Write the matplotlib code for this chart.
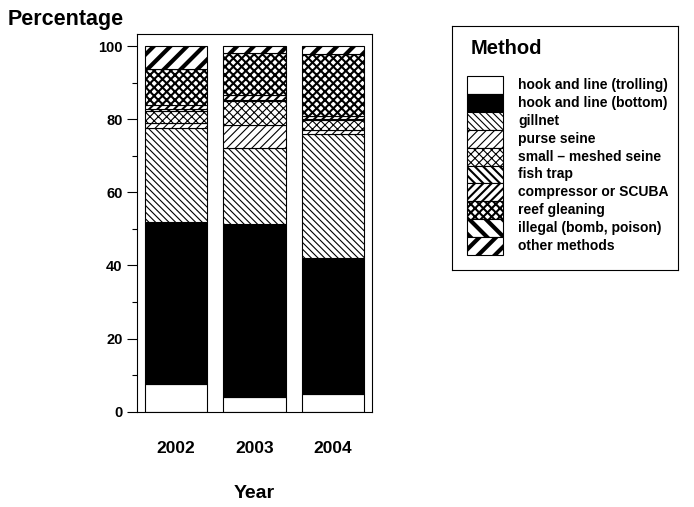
import matplotlib.pyplot as plt
import numpy as np
from matplotlib.patches import Rectangle

plt.rcParams['font.family'] = ['Liberation Sans', 'DejaVu Sans']

years = ['2002', '2003', '2004']
methods = ['hook and line (trolling)', 'hook and line (bottom)', 'gillnet',
           'purse seine', 'small \u2013 meshed seine', 'fish trap',
           'compressor or SCUBA', 'reef gleaning', 'illegal (bomb, poison)',
           'other methods']

# percent of catch by method, one value per year
trolling = [7.6, 4.1, 4.75]
bottom = [44.3, 47.2, 37.15]
gillnet = [25.8, 20.7, 34.0]
purse_seine = [1.3, 6.3, 1.2]
small_mesh = [3.2, 6.6, 2.7]
fish_trap = [0.7, 0.3, 0.3]
compressor = [1.1, 1.5, 0.8]
reef_gleaning = [9.8, 11.4, 17.0]
illegal = [0.0, 0.0, 0.0]
other = [6.2, 1.9, 2.1]

series = [trolling, bottom, gillnet, purse_seine, small_mesh, fish_trap,
          compressor, reef_gleaning, illegal, other]

# (fill, hatch, hatch line width) for each method
styles = [
    ('white', '', 1.0),
    ('black', '', 1.0),
    ('white', '\\' * 5, 0.8),
    ('white', '/' * 4, 0.8),
    ('white', 'x' * 4, 0.8),
    ('white', '\\' * 4, 1.5),
    ('white', '/' * 4, 1.5),
    ('white', 'x' * 4, 1.5),
    ('white', '\\' * 2, 3.0),
    ('white', '/' * 2, 3.0),
]


def style_patch(p, hatch_lw):
    if hasattr(p, 'set_hatch_linewidth'):
        p.set_hatch_linewidth(hatch_lw)


fig = plt.figure(figsize=(6.94, 5.07), dpi=100)
ax = fig.add_axes([137 / 694, 1 - 411.7 / 507, 235 / 694, 377.7 / 507])

x = np.arange(len(years))
base = np.zeros(len(years))
for vals, (fc, hatch, hlw) in zip(series, styles):
    bars = ax.bar(x, vals, width=0.8, bottom=base, color=fc, hatch=hatch,
                  edgecolor='black', linewidth=0.8)
    for p in bars:
        style_patch(p, hlw)
    base = base + np.array(vals)

ax.set_xlim(-0.5, 2.5)
ax.set_ylim(0, 103.3)
ax.set_xticks(x)
ax.set_xticklabels(years, fontsize=12.5, fontweight='bold')
ax.tick_params(axis='x', length=0, pad=21)
ax.set_yticks(np.arange(0, 101, 20))
ax.set_yticks(np.arange(10, 100, 20), minor=True)
ax.tick_params(axis='y', which='major', length=7, width=0.8, labelsize=10.5)
ax.tick_params(axis='y', which='minor', length=3.5, width=0.8)
for lbl in ax.get_yticklabels():
    lbl.set_fontweight('bold')
for s in ax.spines.values():
    s.set_linewidth(0.8)

fig.text(8 / 694, 1 - 20 / 507, 'Percentage', fontsize=15.5, fontweight='bold',
         ha='left', va='center')
fig.text(254.5 / 694, 1 - 493 / 507, 'Year', fontsize=14, fontweight='bold',
         ha='center', va='center')

# legend box, laid out in pixel units
lax = fig.add_axes([452 / 694, 1 - 270 / 507, 226 / 694, 244 / 507])
lax.set_xlim(0, 226)
lax.set_ylim(244, 0)
lax.set_xticks([])
lax.set_yticks([])
for s in lax.spines.values():
    s.set_linewidth(0.8)
lax.text(19, 22, 'Method', fontsize=14.5, fontweight='bold', va='center')
row_h = 17.9
for i, (name, (fc, hatch, hlw)) in enumerate(zip(methods, styles)):
    r = Rectangle((15, 50 + i * row_h), 36, row_h, facecolor=fc, hatch=hatch,
                  edgecolor='black', linewidth=0.8)
    style_patch(r, hlw)
    lax.add_patch(r)
    lax.text(66, 50 + (i + 0.5) * row_h, name, fontsize=10, fontweight='bold',
             va='center')

fig.savefig('out.png', dpi=100)
